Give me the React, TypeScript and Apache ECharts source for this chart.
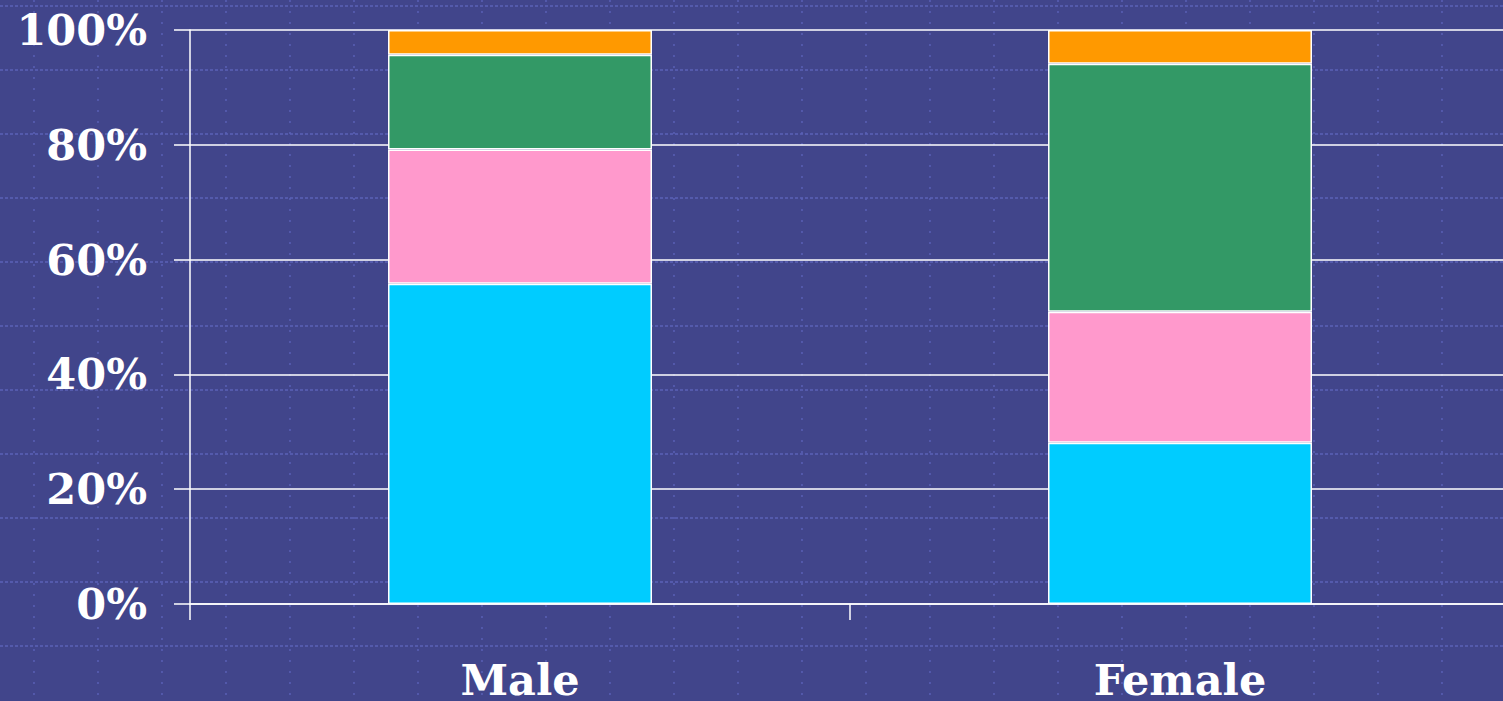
import React, { useEffect, useRef } from "react";
import * as echarts from "echarts";

const categories = ["Male", "Female"];
const blueValues = [55.8, 28.1];
const pinkValues = [23.4, 22.8];
const greenValues = [16.5, 43.2];
const orangeValues = [4.3, 5.9];
const yTicks = [0, 20, 40, 60, 80, 100];

const W = 1503;
const H = 701;
const INNER_W = 1510;

function backgroundPattern() {
  const els: any[] = [];
  for (let y = 6; y < H; y += 64) {
    els.push({
      type: "line",
      z: -10,
      silent: true,
      shape: { x1: 0, y1: y, x2: INNER_W, y2: y },
      style: { stroke: "#5b62b8", lineWidth: 1.4, lineDash: [3, 2] },
    });
  }
  for (let x = 34; x < INNER_W; x += 64) {
    els.push({
      type: "line",
      z: -10,
      silent: true,
      shape: { x1: x, y1: 0, x2: x, y2: H },
      style: { stroke: "#5b62b8", lineWidth: 1.4, lineDash: [2, 9] },
    });
  }
  return els;
}

export default function App() {
  const ref = useRef<HTMLDivElement>(null);
  useEffect(() => {
    if (!ref.current) return;
    document.body.style.margin = "0";
    document.body.style.overflow = "hidden";
    const chart = echarts.init(ref.current, undefined, { renderer: "svg" });
    const font = "'DejaVu Serif', serif";
    const mk = (name: string, data: number[], color: string) => ({
      name,
      type: "bar",
      stack: "total",
      data,
      barWidth: "40%",
      itemStyle: { color, borderColor: "#ffffff", borderWidth: 1.5 },
    });
    chart.setOption({
      animation: false,
      backgroundColor: "#41458b",
      graphic: backgroundPattern(),
      grid: { left: 190, top: 30, right: 0, bottom: 95 },
      xAxis: {
        type: "category",
        data: categories,
        axisLine: { lineStyle: { color: "#ffffff", width: 1.5 } },
        axisTick: { show: true, length: 16, lineStyle: { color: "#ffffff", width: 1.5 } },
        axisLabel: {
          color: "#ffffff",
          fontFamily: font,
          fontWeight: "bold",
          fontSize: 43,
          margin: 54,
        },
      },
      yAxis: {
        type: "value",
        min: 0,
        max: 100,
        interval: 20,
        axisLine: { show: true, lineStyle: { color: "#ffffff", width: 1.5 } },
        axisTick: { show: true, length: 16, lineStyle: { color: "#ffffff", width: 1.5 } },
        splitLine: { show: true, lineStyle: { color: "#ffffff", width: 1.5 } },
        axisLabel: {
          color: "#ffffff",
          fontFamily: font,
          fontWeight: "bold",
          fontSize: 43,
          margin: 43,
          formatter: (v: number) => (yTicks.includes(v) ? `${v}%` : ""),
        },
      },
      series: [
        mk("Blue", blueValues, "#00ccff"),
        mk("Pink", pinkValues, "#ff99cc"),
        mk("Green", greenValues, "#339966"),
        mk("Orange", orangeValues, "#ff9900"),
      ],
    });
    return () => chart.dispose();
  }, []);
  return (
    <div
      style={{ position: "absolute", left: 0, top: 0, width: W, height: H, overflow: "hidden", background: "#41458b" }}
    >
      <div ref={ref} style={{ width: INNER_W, height: H }} />
    </div>
  );
}
